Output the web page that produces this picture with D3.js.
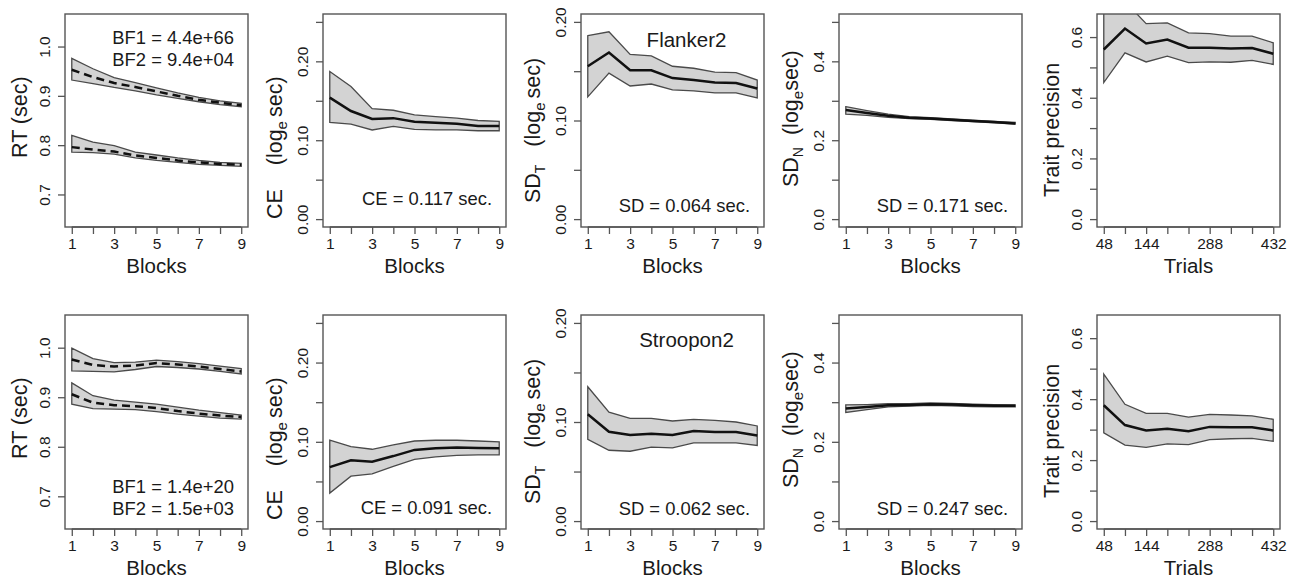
<!DOCTYPE html>
<html>
<head>
<meta charset="utf-8">
<script src="https://cdn.jsdelivr.net/npm/d3@7"></script>
<style>
  body { margin: 0; background: #fff; }
  svg { font-family: "Liberation Sans", Arial, sans-serif; }
  .tick line { stroke: #555; stroke-width: 1.3; }
  .tick text { fill: #1a1a1a; font-size: 15.5px; }
</style>
</head>
<body>
<script>
// blocks and trials on the x axis
const blocks = [1, 2, 3, 4, 5, 6, 7, 8, 9];
const trials = [48, 96, 144, 192, 240, 288, 336, 384, 432];
const blockTickLabels = [1, 3, 5, 7, 9];
const trialTickLabels = [48, 144, 288, 432];

// Flanker2 (top row)
const flkRtIncMean = [0.953, 0.938, 0.926, 0.918, 0.909, 0.900, 0.892, 0.886, 0.881];
const flkRtIncHi = [0.976, 0.955, 0.937, 0.927, 0.916, 0.906, 0.897, 0.890, 0.885];
const flkRtIncLo = [0.932, 0.925, 0.917, 0.910, 0.902, 0.895, 0.888, 0.882, 0.878];
const flkRtConMean = [0.796, 0.791, 0.787, 0.779, 0.774, 0.769, 0.765, 0.762, 0.760];
const flkRtConHi = [0.820, 0.806, 0.799, 0.786, 0.780, 0.774, 0.769, 0.765, 0.763];
const flkRtConLo = [0.786, 0.785, 0.782, 0.774, 0.769, 0.765, 0.761, 0.759, 0.757];
const flkCeMean = [0.154, 0.137, 0.127, 0.128, 0.1235, 0.122, 0.121, 0.118, 0.118];
const flkCeHi = [0.187, 0.168, 0.140, 0.138, 0.132, 0.130, 0.128, 0.125, 0.124];
const flkCeLo = [0.1226, 0.1205, 0.113, 0.1175, 0.1137, 0.113, 0.113, 0.112, 0.112];
const flkSdTMean = [0.155, 0.169, 0.151, 0.151, 0.143, 0.141, 0.1385, 0.138, 0.1325];
const flkSdTHi = [0.186, 0.190, 0.167, 0.1655, 0.155, 0.153, 0.149, 0.1486, 0.141];
const flkSdTLo = [0.124, 0.148, 0.135, 0.137, 0.131, 0.130, 0.128, 0.128, 0.123];
const flkSdNMean = [0.2765, 0.269, 0.262, 0.257, 0.255, 0.252, 0.249, 0.246, 0.2427];
const flkSdNHi = [0.285, 0.275, 0.266, 0.260, 0.257, 0.254, 0.251, 0.248, 0.245];
const flkSdNLo = [0.266, 0.263, 0.258, 0.255, 0.253, 0.250, 0.247, 0.244, 0.241];
const flkTraitMean = [0.559, 0.628, 0.579, 0.592, 0.565, 0.565, 0.562, 0.564, 0.545];
const flkTraitHi = [0.75, 0.718, 0.644, 0.647, 0.614, 0.611, 0.603, 0.603, 0.581];
const flkTraitLo = [0.450, 0.548, 0.518, 0.537, 0.516, 0.518, 0.517, 0.523, 0.510];

// Stroopon2 (bottom row)
const stpRtIncMean = [0.976, 0.965, 0.962, 0.964, 0.969, 0.966, 0.962, 0.957, 0.952];
const stpRtIncHi = [0.999, 0.978, 0.970, 0.971, 0.975, 0.972, 0.968, 0.963, 0.958];
const stpRtIncLo = [0.953, 0.952, 0.951, 0.956, 0.962, 0.960, 0.957, 0.952, 0.947];
const stpRtConMean = [0.906, 0.889, 0.884, 0.882, 0.878, 0.872, 0.867, 0.863, 0.860];
const stpRtConHi = [0.929, 0.903, 0.894, 0.890, 0.886, 0.880, 0.874, 0.869, 0.864];
const stpRtConLo = [0.886, 0.877, 0.876, 0.875, 0.871, 0.866, 0.862, 0.858, 0.856];
const stpCeMean = [0.068, 0.0766, 0.0749, 0.082, 0.0898, 0.092, 0.0928, 0.0923, 0.092];
const stpCeHi = [0.102, 0.094, 0.0906, 0.096, 0.101, 0.102, 0.102, 0.101, 0.100];
const stpCeLo = [0.0353, 0.0566, 0.0596, 0.069, 0.0779, 0.081, 0.083, 0.0834, 0.0834];
const stpSdTMean = [0.1078, 0.0902, 0.0868, 0.0881, 0.0868, 0.0908, 0.0898, 0.0898, 0.0864];
const stpSdTHi = [0.1356, 0.110, 0.1037, 0.1037, 0.101, 0.1027, 0.1017, 0.100, 0.096];
const stpSdTLo = [0.0824, 0.0715, 0.0705, 0.0746, 0.0739, 0.079, 0.079, 0.079, 0.0763];
const stpSdNMean = [0.284, 0.288, 0.292, 0.293, 0.295, 0.294, 0.292, 0.291, 0.291];
const stpSdNHi = [0.293, 0.294, 0.296, 0.296, 0.298, 0.297, 0.295, 0.294, 0.293];
const stpSdNLo = [0.274, 0.281, 0.288, 0.290, 0.292, 0.291, 0.289, 0.288, 0.288];
const stpTraitMean = [0.380, 0.315, 0.297, 0.303, 0.295, 0.309, 0.308, 0.308, 0.297];
const stpTraitHi = [0.482, 0.383, 0.353, 0.353, 0.341, 0.350, 0.348, 0.345, 0.334];
const stpTraitLo = [0.2895, 0.249, 0.242, 0.253, 0.251, 0.267, 0.270, 0.271, 0.262];

// y axis ticks / labels per panel type
const rtTicks = [0.7, 0.8, 0.9, 1.0];
const rtTickLabels = ["0.7", "0.8", "0.9", "1.0"];
const ceTicks = [0, 0.05, 0.10, 0.15, 0.20, 0.25];
const ceTickLabels = ["0.00", "", "0.10", "", "0.20", ""];
const sdTTicks = [0, 0.05, 0.10, 0.15, 0.20];
const sdTTickLabels = ["0.00", "", "0.10", "", "0.20"];
const sdNTicks = [0, 0.1, 0.2, 0.3, 0.4, 0.5];
const sdNTickLabels = ["0.0", "", "0.2", "", "0.4", ""];
const traitTicks = [0, 0.1, 0.2, 0.3, 0.4, 0.5, 0.6];
const traitTickLabels = ["0.0", "", "0.2", "", "0.4", "", "0.6"];

const colLeft = [65, 323, 581, 839, 1097];
const rowTop = [14, 315];
const boxW = 183;
const boxH = [213, 214];

// where each y title starts (from box top) and how far it sits left of the box
const yTitleStart = { rt: 144, ce: 205, sdT: 189, sdN: 173, trait: 183 };
const yTitleOff = { rt: 38, ce: 41.5, sdT: 41.5, sdN: 41.5, trait: 38 };

const svg = d3.select("body").append("svg")
	.attr("width", 1298)
	.attr("height", 581);

// R style ylim padding (4%)
const pad = (lo, hi) => [lo - (hi - lo) * 0.04, hi + (hi - lo) * 0.04];

const panels = [
	{ row: 0, col: 0, kind: "rt", ylim: [0.65, 1.05], ticks: rtTicks, labels: rtTickLabels,
		series: [[flkRtIncMean, flkRtIncLo, flkRtIncHi], [flkRtConMean, flkRtConLo, flkRtConHi]],
		notes: [["BF1 = 4.4e+66", 44], ["BF2 = 9.4e+04", 66]] },
	{ row: 0, col: 1, kind: "ce", ylim: [0, 0.25], ticks: ceTicks, labels: ceTickLabels,
		series: [[flkCeMean, flkCeLo, flkCeHi]], notes: [["CE = 0.117 sec.", 205]] },
	{ row: 0, col: 2, kind: "sdT", ylim: [0, 0.2], ticks: sdTTicks, labels: sdTTickLabels,
		series: [[flkSdTMean, flkSdTLo, flkSdTHi]], notes: [["SD = 0.064 sec.", 212]], title: ["Flanker2", 47] },
	{ row: 0, col: 3, kind: "sdN", ylim: [0, 0.5], ticks: sdNTicks, labels: sdNTickLabels,
		series: [[flkSdNMean, flkSdNLo, flkSdNHi]], notes: [["SD = 0.171 sec.", 212]] },
	{ row: 0, col: 4, kind: "trait", ylim: [0, 0.65], ticks: traitTicks, labels: traitTickLabels,
		series: [[flkTraitMean, flkTraitLo, flkTraitHi]], notes: [] },
	{ row: 1, col: 0, kind: "rt", ylim: [0.65, 1.05], ticks: rtTicks, labels: rtTickLabels,
		series: [[stpRtIncMean, stpRtIncLo, stpRtIncHi], [stpRtConMean, stpRtConLo, stpRtConHi]],
		notes: [["BF1 = 1.4e+20", 493], ["BF2 = 1.5e+03", 515]] },
	{ row: 1, col: 1, kind: "ce", ylim: [0, 0.25], ticks: ceTicks, labels: ceTickLabels,
		series: [[stpCeMean, stpCeLo, stpCeHi]], notes: [["CE = 0.091 sec.", 514]] },
	{ row: 1, col: 2, kind: "sdT", ylim: [0, 0.2], ticks: sdTTicks, labels: sdTTickLabels,
		series: [[stpSdTMean, stpSdTLo, stpSdTHi]], notes: [["SD = 0.062 sec.", 515]], title: ["Stroopon2", 347] },
	{ row: 1, col: 3, kind: "sdN", ylim: [0, 0.5], ticks: sdNTicks, labels: sdNTickLabels,
		series: [[stpSdNMean, stpSdNLo, stpSdNHi]], notes: [["SD = 0.247 sec.", 515]] },
	{ row: 1, col: 4, kind: "trait", ylim: [0, 0.65], ticks: traitTicks, labels: traitTickLabels,
		series: [[stpTraitMean, stpTraitLo, stpTraitHi]], notes: [] }
];

panels.forEach((p, pi) => {
	const left = colLeft[p.col];
	const top = rowTop[p.row];
	const h = boxH[p.row];
	const isTrait = p.kind === "trait";
	const xs = isTrait ? trials : blocks;
	const xDom = isTrait ? pad(48, 432) : pad(1, 9);

	const x = d3.scaleLinear().domain(xDom).range([0, boxW]);
	const y = d3.scaleLinear().domain(pad(p.ylim[0], p.ylim[1])).range([h, 0]);

	const g = svg.append("g").attr("transform", `translate(${left},${top})`);

	g.append("clipPath").attr("id", "clip" + pi)
		.append("rect").attr("width", boxW).attr("height", h);

	const plot = g.append("g").attr("clip-path", `url(#clip${pi})`);

	const area = d3.area()
		.x((d) => x(d[0]))
		.y0((d) => y(d[1]))
		.y1((d) => y(d[2]));
	const line = d3.line()
		.x((d) => x(d[0]))
		.y((d) => y(d[1]));

	p.series.forEach(([mean, lo, hi]) => {
		const rows = xs.map((v, i) => [v, lo[i], hi[i]]);
		plot.append("path")
			.attr("d", area(rows))
			.attr("fill", "#d3d3d3")
			.attr("stroke", "#4a4a4a")
			.attr("stroke-width", 1.3);
		plot.append("path")
			.attr("d", line(xs.map((v, i) => [v, mean[i]])))
			.attr("fill", "none")
			.attr("stroke", "#111")
			.attr("stroke-width", 2.5)
			.attr("stroke-dasharray", p.kind === "rt" ? "8,5" : null);
	});

	// box
	g.append("rect")
		.attr("width", boxW).attr("height", h)
		.attr("fill", "none")
		.attr("stroke", "#555")
		.attr("stroke-width", 1.4);

	// x axis
	const xLabels = isTrait ? trialTickLabels : blockTickLabels;
	const xAxis = g.append("g")
		.attr("transform", `translate(0,${h})`)
		.call(d3.axisBottom(x).tickValues(xs).tickSize(7).tickPadding(3)
			.tickFormat((d) => (xLabels.includes(d) ? d : "")));
	xAxis.select(".domain").remove();
	xAxis.selectAll("text").attr("dy", null).attr("y", 22);
	g.append("line")
		.attr("x1", x(xs[0])).attr("x2", x(xs[xs.length - 1]))
		.attr("y1", h).attr("y2", h)
		.attr("stroke", "#555").attr("stroke-width", 1.4);

	// y axis with labels parallel to the axis
	const yAxis = g.append("g")
		.call(d3.axisLeft(y).tickValues(p.ticks).tickSize(7)
			.tickFormat((d, i) => p.labels[i]));
	yAxis.select(".domain").remove();
	yAxis.selectAll("text")
		.attr("transform", "rotate(-90)")
		.attr("x", 0).attr("y", -15).attr("dy", null)
		.attr("text-anchor", "middle");

	// axis titles
	g.append("text")
		.attr("x", boxW / 2).attr("y", h + 46)
		.attr("text-anchor", "middle")
		.attr("font-size", 20.5).attr("fill", "#1a1a1a")
		.text(isTrait ? "Trials" : "Blocks");

	const yt = g.append("text")
		.attr("transform", `translate(${-yTitleOff[p.kind]},${yTitleStart[p.kind]}) rotate(-90)`)
		.attr("text-anchor", "start")
		.attr("font-size", 21.5).attr("fill", "#1a1a1a");
	if (p.kind === "rt") yt.text("RT (sec)");
	else if (isTrait) yt.text("Trait precision");
	else {
		const gap = { ce: "\u00a0\u00a0\u00a0\u00a0(log", sdT: "\u00a0\u00a0\u00a0(log", sdN: "\u00a0\u00a0(log" }[p.kind];
		yt.append("tspan").text(p.kind === "ce" ? "CE" : "SD");
		if (p.kind !== "ce") {
			yt.append("tspan").attr("font-size", 14).attr("dy", 5)
				.text(p.kind === "sdT" ? "T" : "N");
			yt.append("tspan").attr("dy", -5).text(gap);
		} else {
			yt.append("tspan").text(gap);
		}
		yt.append("tspan").attr("font-size", 15).attr("dy", 5).text("e");
		yt.append("tspan").attr("dy", -5).attr("dx", p.kind === "sdN" ? 0 : 4).text("sec)");
	}

	// annotations inside the panel
	p.notes.forEach(([txt, base]) => {
		g.append("text")
			.attr("x", boxW - 14).attr("y", base - top)
			.attr("text-anchor", "end")
			.attr("font-size", 18.4).attr("fill", "#1a1a1a")
			.text(txt);
	});
	if (p.title) {
		g.append("text")
			.attr("x", boxW / 2 + 14).attr("y", p.title[1] - top)
			.attr("text-anchor", "middle")
			.attr("font-size", 20.5).attr("fill", "#1a1a1a")
			.text(p.title[0]);
	}
});
</script>
</body>
</html>
